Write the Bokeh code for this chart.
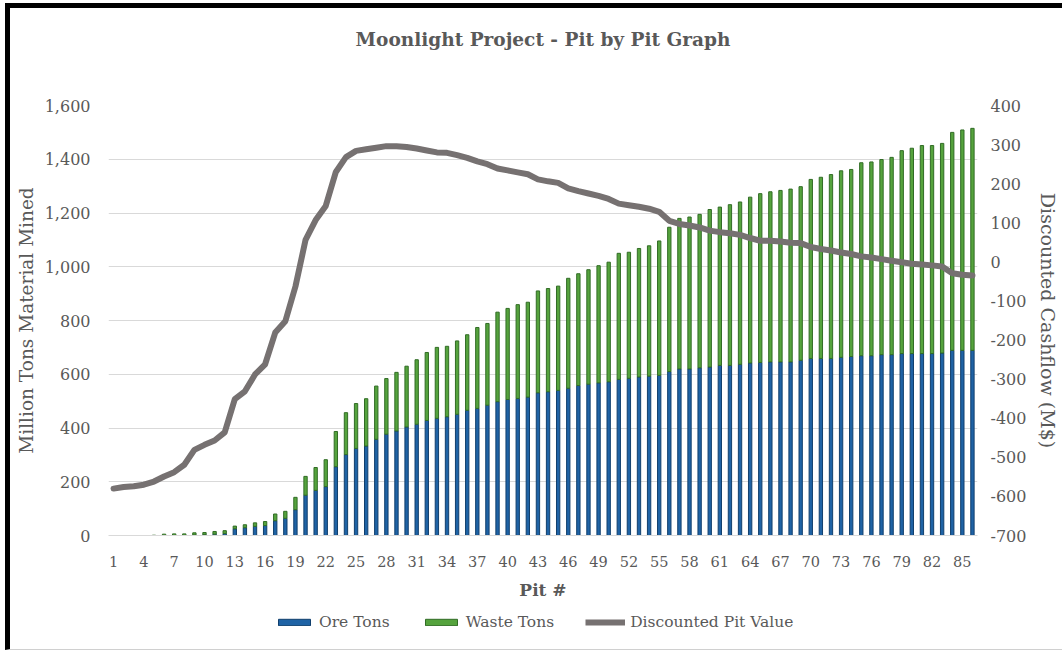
from bokeh.plotting import figure
from bokeh.layouts import column
from bokeh.models import (Range1d, LinearAxis, FixedTicker, NumeralTickFormatter,
                          Legend, LegendItem, ColumnDataSource, Title)
from bokeh.embed import file_html
from bokeh.resources import INLINE

# ---------------- data ----------------
pits = list(range(1, 87))
ore = [0, 0, 0, 0, 0, 0, 0, 0, 2, 3,
       5, 7, 25, 29, 34, 37, 55, 64, 96, 150,
       168, 182, 256, 301, 324, 333, 358, 377, 389, 404,
       414, 428, 436, 442, 451, 466, 473, 485, 498, 506,
       510, 515, 531, 535, 540, 548, 558, 563, 568, 572,
       581, 585, 590, 593, 596, 610, 620, 620, 624, 627,
       633, 633, 637, 642, 644, 646, 646, 646, 652, 659,
       659, 659, 663, 666, 669, 669, 673, 673, 677, 677,
       677, 677, 679, 689, 689, 689]
waste = [0, 0, 0, 0, 1, 5, 6, 6, 8, 8,
         10, 11, 10, 11, 13, 15, 25, 26, 46, 70,
         85, 100, 131, 156, 167, 176, 198, 207, 218, 226,
         240, 253, 264, 262, 273, 281, 301, 304, 333, 339,
         349, 353, 379, 384, 388, 409, 416, 426, 436, 445,
         469, 469, 478, 485, 500, 537, 560, 565, 571, 586,
         589, 598, 604, 617, 628, 633, 638, 643, 646, 666,
         674, 684, 694, 696, 718, 721, 726, 734, 755, 764,
         774, 774, 780, 811, 820, 826]
dpv = [-580, -576, -574, -570, -562, -549, -538, -519, -481, -468,
       -457, -436, -351, -331, -288, -262, -181, -152, -63, 56,
       107, 143, 230, 268, 284, 288, 292, 296, 296, 294,
       290, 285, 280, 279, 273, 266, 257, 250, 239, 234,
       229, 224, 211, 206, 202, 188, 181, 175, 169, 161,
       149, 145, 141, 136, 128, 105, 97, 93, 88, 80,
       76, 73, 69, 61, 54, 54, 52, 49, 48, 38,
       33, 29, 24, 20, 14, 11, 7, 3, -1, -5,
       -7, -9, -12, -29, -33, -35]
x_ticks = list(range(1, 86, 3))
left_ticks = list(range(0, 1601, 200))
right_ticks = list(range(-700, 401, 100))

title = "Moonlight Project - Pit by Pit Graph"
left_label = "Million Tons Material Mined"
right_label = "Discounted Cashflow (M$)"
x_label = "Pit #"
series_names = ["Ore Tons", "Waste Tons", "Discounted Pit Value"]

# ---------------- chart ----------------
FONT = "DejaVu Serif"
TXT = "#595959"
ORE_FILL, ORE_EDGE = "#1f63a5", "#113f6d"
WASTE_FILL, WASTE_EDGE = "#55a33d", "#316c25"
LINE_COL = "#767171"

total = [o + w for o, w in zip(ore, waste)]
src = ColumnDataSource(dict(pit=pits, ore=ore, total=total,
                            zero=[0] * len(pits), dpv=dpv))

# the page frame (black left/top edge) shifts content by 10px right, 8px down
W = 1052
main_title = Title(text=title, text_font=FONT, text_font_size="18.5px",
                   text_font_style="bold", text_color=TXT, align="center",
                   standoff=10)
p = figure(width=W, height=594, output_backend="svg", toolbar_location=None,
           x_range=Range1d(0.5, 86.5), y_range=Range1d(0, 1600),
           min_border_left=98, min_border_right=84,
           min_border_top=97, min_border_bottom=65,
           title=main_title)
# empty spacer placed between the frame and the title
spacer = Title(text=" ", text_font_size="10px", standoff=38)
p.add_layout(spacer, "above")
p.extra_y_ranges = {"cf": Range1d(-700, 400)}
p.outline_line_color = None
p.background_fill_color = "white"
p.border_fill_color = "white"

bar_w = 0.33
r_ore = p.vbar(x="pit", width=bar_w, bottom="zero", top="ore", source=src,
               fill_color=ORE_FILL, line_color=ORE_EDGE, line_width=1)
r_waste = p.vbar(x="pit", width=bar_w, bottom="ore", top="total", source=src,
                 fill_color=WASTE_FILL, line_color=WASTE_EDGE, line_width=1)
r_line = p.line(x="pit", y="dpv", source=src, y_range_name="cf",
                line_color=LINE_COL, line_width=6,
                line_join="round", line_cap="round")

# grid
p.xgrid.visible = False
p.ygrid.ticker = FixedTicker(ticks=left_ticks)
p.ygrid.grid_line_color = "#d9d9d9"
p.ygrid.grid_line_width = 1

def style_axis(ax, size):
    ax.axis_line_color = None
    ax.major_tick_line_color = None
    ax.minor_tick_line_color = None
    ax.major_label_text_font = FONT
    ax.major_label_text_font_size = size
    ax.major_label_text_color = TXT
    ax.axis_label_text_font = FONT
    ax.axis_label_text_color = TXT

# left axis
ya = p.yaxis[0]
ya.ticker = FixedTicker(ticks=left_ticks)
ya.formatter = NumeralTickFormatter(format="0,0")
style_axis(ya, "16px")
ya.major_label_standoff = 12
ya.axis_label = left_label
ya.axis_label_text_font_size = "18.5px"
ya.axis_label_text_font_style = "normal"
ya.axis_label_standoff = 5

# right axis
ra = LinearAxis(y_range_name="cf", ticker=FixedTicker(ticks=right_ticks),
                formatter=NumeralTickFormatter(format="0"))
style_axis(ra, "16px")
ra.major_label_standoff = 7
ra.axis_label = right_label
ra.axis_label_text_font_size = "19px"
ra.axis_label_text_font_style = "normal"
ra.axis_label_standoff = 8
p.add_layout(ra, "right")

# x axis
xa = p.xaxis[0]
xa.ticker = FixedTicker(ticks=x_ticks)
style_axis(xa, "14.5px")
xa.axis_line_color = "#d9d9d9"
xa.major_label_standoff = 14
xa.axis_label = x_label
xa.axis_label_text_font_size = "17px"
xa.axis_label_text_font_style = "bold"
xa.axis_label_standoff = 10

# ---------------- legend strip below the chart ----------------
nan = float("nan")
proxy = ColumnDataSource(dict(x=[nan], top=[nan], bottom=[nan], y=[nan]))
lg = figure(width=W, height=47, output_backend="svg", toolbar_location=None,
            x_range=Range1d(0, 1), y_range=Range1d(0, 1),
            x_axis_location=None, y_axis_location=None,
            min_border_left=0, min_border_right=0,
            min_border_top=0, min_border_bottom=0)
lg.outline_line_color = None
lg.xgrid.visible = False
lg.ygrid.visible = False
d_ore = lg.vbar(x="x", width=bar_w, bottom="bottom", top="top", source=proxy,
                fill_color=ORE_FILL, line_color=ORE_EDGE, line_width=1)
d_waste = lg.vbar(x="x", width=bar_w, bottom="bottom", top="top", source=proxy,
                  fill_color=WASTE_FILL, line_color=WASTE_EDGE, line_width=1)
d_line = lg.line(x="x", y="y", source=proxy, line_color=LINE_COL, line_width=6)

legend = Legend(items=[LegendItem(label=series_names[0], renderers=[d_ore]),
                       LegendItem(label=series_names[1], renderers=[d_waste]),
                       LegendItem(label=series_names[2], renderers=[d_line])],
                orientation="horizontal", location=(166, 18),
                glyph_width=40, glyph_height=8,
                label_text_font=FONT, label_text_font_size="15.5px",
                label_text_color=TXT, label_standoff=5, spacing=31,
                border_line_color=None, background_fill_alpha=0,
                padding=4, margin=0)
lg.add_layout(legend, "center")

page = column(p, lg, spacing=0,
              styles={"border-left": "5px solid #000", "border-top": "5px solid #000",
                      "border-bottom": "1px solid #d0d0d0",
                      "margin-left": "5px", "margin-top": "3px"})
open("out.html", "w").write(file_html(page, INLINE))
